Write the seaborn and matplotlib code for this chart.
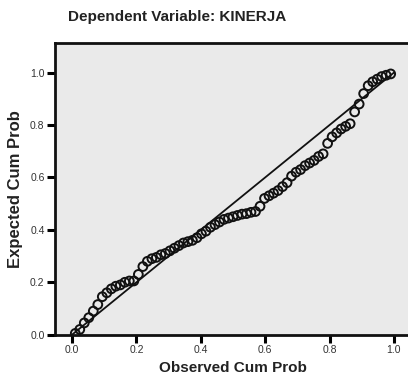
import matplotlib
matplotlib.use("Agg")
import matplotlib.pyplot as plt
import seaborn as sns
import pandas as pd

observed = [0.010, 0.024, 0.038, 0.052, 0.066, 0.080, 0.094, 0.108, 0.122, 0.136,
            0.150, 0.164, 0.178, 0.192, 0.206, 0.220, 0.234, 0.248, 0.262, 0.276,
            0.290, 0.304, 0.318, 0.332, 0.346, 0.360, 0.374, 0.388, 0.402, 0.416,
            0.430, 0.444, 0.458, 0.472, 0.486, 0.500, 0.514, 0.528, 0.542, 0.556,
            0.570, 0.584, 0.598, 0.612, 0.626, 0.640, 0.654, 0.668, 0.682, 0.696,
            0.710, 0.724, 0.738, 0.752, 0.766, 0.780, 0.794, 0.808, 0.822, 0.836,
            0.850, 0.864, 0.878, 0.892, 0.906, 0.920, 0.934, 0.948, 0.962, 0.976,
            0.990]
expected = [0.005, 0.020, 0.045, 0.065, 0.090, 0.115, 0.145, 0.160, 0.175, 0.185,
            0.190, 0.200, 0.205, 0.205, 0.230, 0.260, 0.280, 0.290, 0.295, 0.305,
            0.310, 0.320, 0.330, 0.340, 0.350, 0.355, 0.360, 0.370, 0.385, 0.395,
            0.410, 0.420, 0.430, 0.440, 0.445, 0.450, 0.455, 0.460, 0.462, 0.467,
            0.470, 0.490, 0.520, 0.530, 0.540, 0.550, 0.565, 0.580, 0.605, 0.620,
            0.630, 0.645, 0.655, 0.665, 0.680, 0.690, 0.730, 0.755, 0.770, 0.785,
            0.795, 0.805, 0.850, 0.880, 0.920, 0.950, 0.965, 0.975, 0.985, 0.990,
            0.995]
reference = [0.0, 1.0]
tick_values = [0.0, 0.2, 0.4, 0.6, 0.8, 1.0]
tick_labels = ["0.0", "0.2", "0.4", "0.6", "0.8", "1.0"]

sns.set_style("ticks")
plt.rcParams['font.family'] = ['Liberation Sans', 'DejaVu Sans']

W, H = 408, 379
fig = plt.figure(figsize=(W / 100, H / 100), dpi=100)
fig.patch.set_facecolor("white")
left, right, top, bottom = 55, 410, 43, 334.7
ax = fig.add_axes([left / W, (H - bottom) / H, (right - left) / W, (bottom - top) / H])
ax.set_facecolor("#eaeaea")

df = pd.DataFrame({"obs": observed, "exp": expected})
ref = pd.DataFrame({"x": reference, "y": reference})
sns.lineplot(data=ref, x="x", y="y", ax=ax, color="#111111", linewidth=1.3, zorder=2)
sns.scatterplot(data=df, x="obs", y="exp", ax=ax, marker="o", s=40,
                facecolor="none", edgecolor="#111111", linewidth=1.4, zorder=3)

ax.set_xlim(-0.053, 1.05)
ax.set_ylim(0, 1.113)
ax.set_xticks(tick_values)
ax.set_xticklabels(tick_labels)
ax.set_yticks(tick_values)
ax.set_yticklabels(tick_labels)
ax.tick_params(axis="both", which="major", bottom=True, left=True, top=False, right=False,
               direction="out", length=5.5, width=2.2, color="#000000",
               labelsize=7.5, labelcolor="#333333", pad=2)

for side in ["left", "bottom", "top"]:
    ax.spines[side].set_visible(True)
    ax.spines[side].set_color("#111111")
    ax.spines[side].set_linewidth(2)
ax.spines["right"].set_visible(False)

ax.set_xlabel("Observed Cum Prob", fontsize=11, fontweight="bold", color="#222222", labelpad=4)
ax.set_ylabel("Expected Cum Prob", fontsize=12, fontweight="bold", color="#222222", labelpad=5)
fig.text(68 / W, 1 - 17 / H, "Dependent Variable: KINERJA", fontsize=11,
         fontweight="bold", color="#222222", ha="left", va="center")

fig.savefig("out.png", dpi=100)
